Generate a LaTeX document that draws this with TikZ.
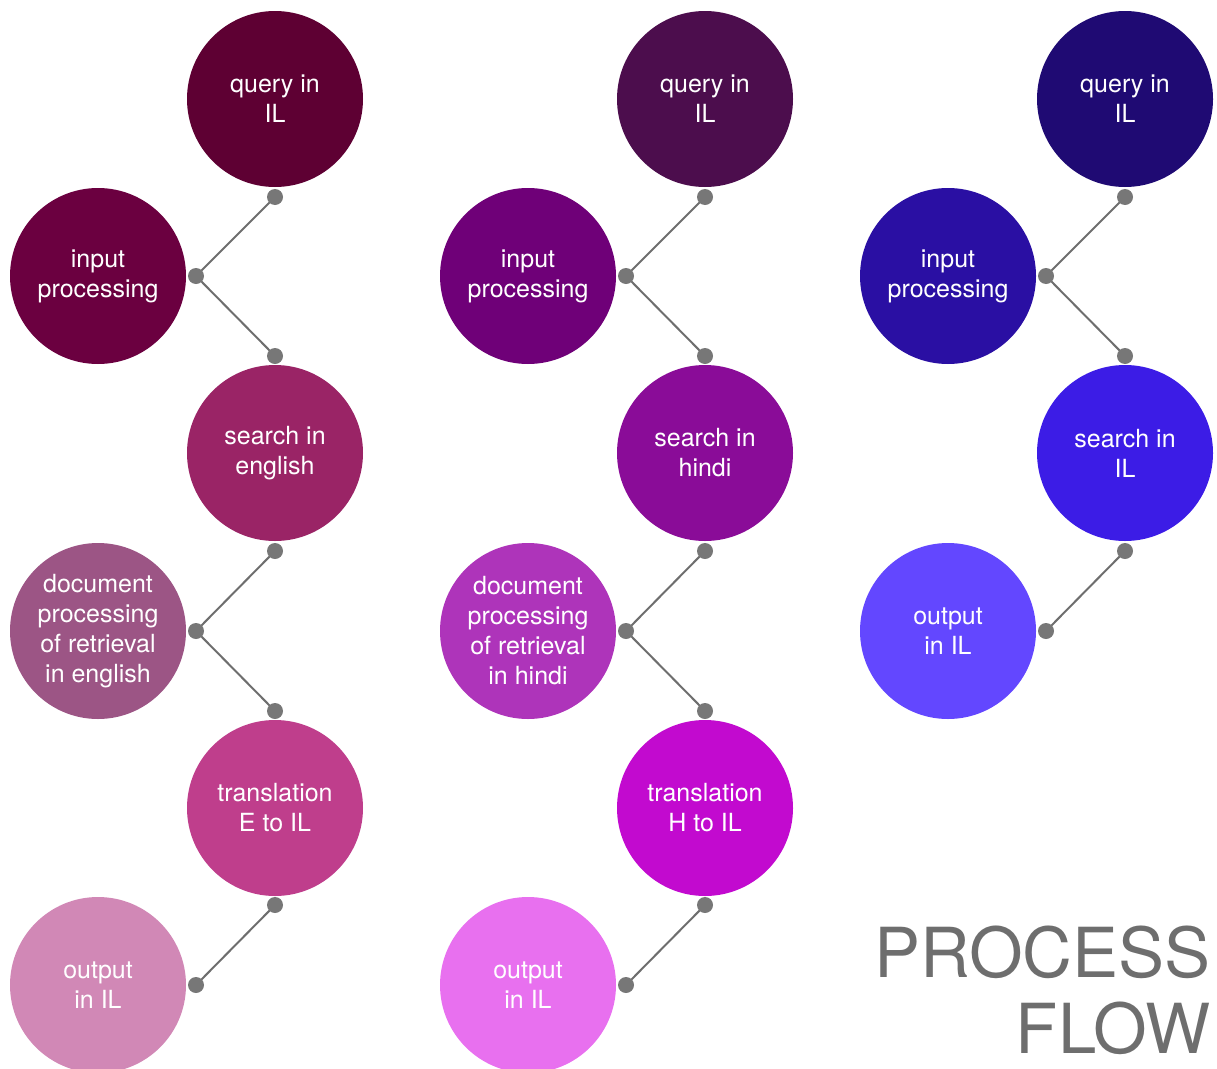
\documentclass[tikz,border=0pt]{standalone}
\usepackage{fontspec}
\setmainfont{TeX Gyre Heros}
\begin{document}
\begin{tikzpicture}[x=1pt,y=-1pt,
  stepnode/.style={circle,minimum size=176pt,inner sep=0pt,text=white,align=center,
    font=\fontsize{25}{30}\selectfont},
  dot/.style={circle,fill=dotgray,minimum size=16pt,inner sep=0pt},
  link/.style={draw=linegray,line width=2pt},
  titletext/.style={anchor=base east,inner sep=0pt,text=titlegray,font=\fontsize{69}{80}\selectfont}]
\definecolor{dotgray}{HTML}{777777}
\definecolor{linegray}{HTML}{6E6E6E}
\definecolor{aq}{HTML}{5E0033}\definecolor{ai}{HTML}{6B0040}\definecolor{as}{HTML}{9A2466}
\definecolor{ad}{HTML}{9C5585}\definecolor{at}{HTML}{BF3E8C}\definecolor{ao}{HTML}{D188B6}
\definecolor{bq}{HTML}{4C0D4D}\definecolor{bi}{HTML}{6F0078}\definecolor{bs}{HTML}{8A0C98}
\definecolor{bd}{HTML}{AE34BA}\definecolor{bt}{HTML}{C20ACF}\definecolor{bo}{HTML}{E870EF}
\definecolor{cq}{HTML}{1F0A73}\definecolor{ci}{HTML}{2A0FA3}\definecolor{cs}{HTML}{3C1CE6}
\definecolor{co}{HTML}{6347FF}
\definecolor{titlegray}{HTML}{6E6E6E}
\useasboundingbox (0,0) rectangle (1217,1068);
% column 1
\node[stepnode,fill=aq] (aq) at (275,99) {query in\\IL};
\node[stepnode,fill=ai] (ai) at (98,276) {input\\processing};
\node[stepnode,fill=as] (as) at (275,453) {search in\\english};
\node[stepnode,fill=ad] (ad) at (98,631) {document\\processing\\of retrieval\\in english};
\node[stepnode,fill=at] (at) at (275,808) {translation\\E to IL};
\node[stepnode,fill=ao] (ao) at (98,985) {output\\in IL};
% column 2
\node[stepnode,fill=bq] (bq) at (705,99) {query in\\IL};
\node[stepnode,fill=bi] (bi) at (528,276) {input\\processing};
\node[stepnode,fill=bs] (bs) at (705,453) {search in\\hindi};
\node[stepnode,fill=bd] (bd) at (528,631) {document\\processing\\of retrieval\\in hindi};
\node[stepnode,fill=bt] (bt) at (705,808) {translation\\H to IL};
\node[stepnode,fill=bo] (bo) at (528,985) {output\\in IL};
% column 3
\node[stepnode,fill=cq] (cq) at (1125,99) {query in\\IL};
\node[stepnode,fill=ci] (ci) at (948,276) {input\\processing};
\node[stepnode,fill=cs] (cs) at (1125,453) {search in\\IL};
\node[stepnode,fill=co] (co) at (948,631) {output\\in IL};
% connectors column 1
\coordinate (a1) at (275,197); \coordinate (a2) at (196,276); \coordinate (a3) at (275,356);
\coordinate (a4) at (275,551); \coordinate (a5) at (196,631); \coordinate (a6) at (275,711);
\coordinate (a7) at (275,905); \coordinate (a8) at (196,985);
\draw[link] (a1) -- (a2) -- (a3);
\draw[link] (a4) -- (a5) -- (a6);
\draw[link] (a7) -- (a8);
\foreach \p in {a1,a2,a3,a4,a5,a6,a7,a8} \node[dot] at (\p) {};
% connectors column 2
\coordinate (b1) at (705,197); \coordinate (b2) at (626,276); \coordinate (b3) at (705,356);
\coordinate (b4) at (705,551); \coordinate (b5) at (626,631); \coordinate (b6) at (705,711);
\coordinate (b7) at (705,905); \coordinate (b8) at (626,985);
\draw[link] (b1) -- (b2) -- (b3);
\draw[link] (b4) -- (b5) -- (b6);
\draw[link] (b7) -- (b8);
\foreach \p in {b1,b2,b3,b4,b5,b6,b7,b8} \node[dot] at (\p) {};
% connectors column 3
\coordinate (c1) at (1125,197); \coordinate (c2) at (1046,276); \coordinate (c3) at (1125,356);
\coordinate (c4) at (1125,551); \coordinate (c5) at (1046,631);
\draw[link] (c1) -- (c2) -- (c3);
\draw[link] (c4) -- (c5);
\foreach \p in {c1,c2,c3,c4,c5} \node[dot] at (\p) {};
% title
\node[titletext] (title1) at (1211,977) {PROCESS};
\node[titletext] (title2) at (1211,1053) {FLOW};
\end{tikzpicture}
\end{document}
